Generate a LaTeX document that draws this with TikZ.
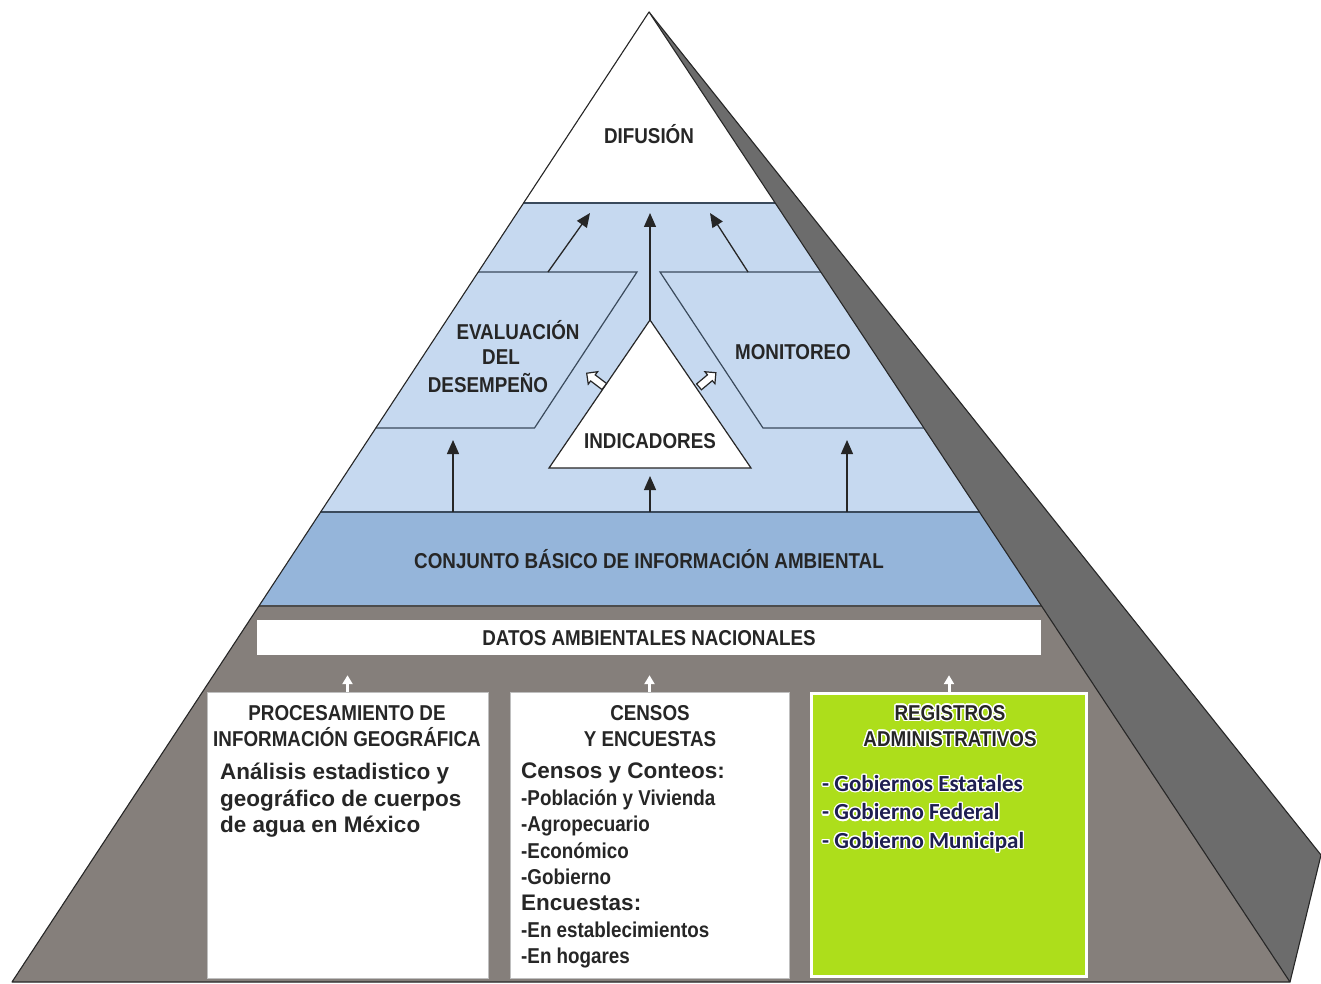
\documentclass[tikz,border=0pt]{standalone}
\usepackage{fontspec}
\setmainfont{Liberation Sans}
\newfontfamily\narrowf[FakeStretch=0.875]{Liberation Sans}
\newfontfamily\calib{Carlito}
\usepackage{contour}
\contourlength{1.3pt}
\usetikzlibrary{arrows.meta,shapes.arrows,calc}

\definecolor{lblue}{HTML}{C6D9F0}
\definecolor{dblue}{HTML}{95B5DA}
\definecolor{pgray}{HTML}{857F7B}
\definecolor{sgray}{HTML}{6C6C6C}
\definecolor{lgreen}{HTML}{ADDE1B}
\definecolor{txt}{HTML}{262626}
\definecolor{navy}{HTML}{1E1E50}
\definecolor{lnblue}{HTML}{3A4A5C}

\newcommand{\labf}{\narrowf\bfseries\fontsize{21.5}{26}\selectfont}
\newcommand{\bodf}{\bfseries\fontsize{22.5}{26.5}\selectfont}
\newcommand{\narf}{\narrowf\bfseries\fontsize{21.5}{26.5}\selectfont}

\begin{document}
\begin{tikzpicture}[x=1pt,y=-1pt,
  lab/.style={font=\labf, text=txt, align=center, inner sep=0pt},
  body/.style={text=txt, align=left, inner sep=0pt},
  rim/.style={draw=black!85, line width=1.1pt, line join=round},
  pline/.style={draw=lnblue, line width=1.2pt},
  upar/.style={draw=txt, line width=1.3pt, -{Triangle[length=14pt,width=12pt]}},
  warr/.style={draw=white, line width=3pt, -{Triangle[length=9pt,width=10pt]}},
  hollow/.style={single arrow, draw=txt, fill=white, line width=1.2pt,
     minimum height=22pt, single arrow head extend=4pt,
     inner xsep=0pt, inner ysep=3.2pt},
  wbox/.style={draw=black!25, fill=white, line width=0.8pt, inner sep=0pt},
  gbox/.style={draw=white, fill=lgreen, line width=3pt, inner sep=0pt}
]
\useasboundingbox (0,0) rectangle (1321,984);
\fill[white] (0,0) rectangle (1321,984);

% pyramid corners
\coordinate (A) at (649,12);
\coordinate (L) at (12,982);
\coordinate (R) at (1290,982);
\coordinate (S) at (1321,855);

% side face
\fill[sgray] (A) -- (S) -- (R) -- cycle;
\draw[rim] (A) -- (S) -- (R);

% front face
\fill[pgray] (A) -- (L) -- (R) -- cycle;
\begin{scope}
  \clip (A) -- (L) -- (R) -- cycle;
  \fill[white] (0,0) rectangle (1321,203);
  \fill[lblue] (0,203) rectangle (1321,512);
  \fill[dblue] (0,512) rectangle (1321,606);
  \draw[pline] (0,203) -- (1321,203);
  \draw[pline] (0,512) -- (1321,512);
  \draw[pline, draw=black!70] (0,606) -- (1321,606);
  % parallelograms
  \draw[pline] (300,272) -- (637,272) -- (534.5,428) -- (300,428);
  \draw[pline] (1000,272) -- (660,272) -- (763,428) -- (1000,428);
\end{scope}
\draw[rim] (A) -- (L) -- (R) -- cycle;

% indicator triangle
\coordinate (indT) at (650,320);
\coordinate (indB) at (650,468);
\draw[pline, draw=txt, fill=white] (indT) -- (751,468) -- (549,468) -- cycle;

% labels
\node[lab] (dif) at (649,134) {DIFUSIÓN};
\node[lab] (eva1) at (518,330) {EVALUACIÓN};
\node[lab] (eva2) at (501,357) {DEL};
\node[lab] (eva3) at (488,383) {DESEMPEÑO};
\node[lab] (mon) at (793,352) {MONITOREO};
\node[lab] (ind) at (650,441) {INDICADORES};
\node[lab] (cbi) at (649,559) {CONJUNTO BÁSICO DE INFORMACIÓN AMBIENTAL};

% top arrows
\coordinate (evaTop) at (548,272);
\coordinate (monTop) at (748,272);
\coordinate (difL) at (590,213);
\coordinate (difC) at (650,213);
\coordinate (difR) at (710,213);
\draw[upar] (evaTop) -- (difL);
\draw[upar] (indT) -- (difC);
\draw[upar] (monTop) -- (difR);

% hollow arrows
\node[hollow, rotate=143] (ha1) at (597,381) {};
\node[hollow, rotate=40] (ha2) at (706,381) {};

% arrows from the basic set
\coordinate (cbL) at (453,512);
\coordinate (cbC) at (650,512);
\coordinate (cbR) at (847,512);
\coordinate (evaB) at (453,428);
\coordinate (monB) at (847,428);
\draw[upar, shorten >=12pt] (cbL) -- (evaB);
\draw[upar, shorten >=8pt] (cbC) -- (indB);
\draw[upar, shorten >=12pt] (cbR) -- (monB);

% datos bar
\node[fill=white, minimum width=784pt, minimum height=35pt, inner sep=0pt] (datos) at (649,637.5) {};
\node[lab] (datost) at (649,638) {DATOS AMBIENTALES NACIONALES};

% boxes
\node[wbox, minimum width=281pt, minimum height=286pt] (b1) at (347.5,835) {};
\node[wbox, minimum width=279pt, minimum height=286pt] (b2) at (649.5,835) {};
\node[gbox, minimum width=275pt, minimum height=283pt] (b3) at (949,835) {};

\draw[warr, shorten >=20pt] (b1.north) -- (b1.north |- datos.south);
\draw[warr, shorten >=20pt] (b2.north) -- (b2.north |- datos.south);
\draw[warr, shorten >=20pt] (b3.north) -- (b3.north |- datos.south);

% box 1 text
\node[lab, anchor=north] (b1h) at (347,705) {PROCESAMIENTO DE\\INFORMACIÓN GEOGRÁFICA};
\node[body, font=\bodf, anchor=north west] (b1t) at (220,763)
  {Análisis estadistico y\\geográfico de cuerpos\\de agua en México};

% box 2 text
\node[lab, anchor=north] (b2h) at (650,705) {CENSOS\\Y ENCUESTAS};
\node[body, font=\fontsize{22}{26.4}\selectfont, anchor=north west] (b2t) at (521,763)
  {{\bodf Censos y Conteos:}\\
   {\narf -Población y Vivienda}\\
   {\narf -Agropecuario}\\
   {\narf -Económico}\\
   {\narf -Gobierno}\\
   {\bodf Encuestas:}\\
   {\narf -En establecimientos}\\
   {\narf -En hogares}};

% box 3 text
\node[lab, anchor=north] (b3h) at (950,705)
  {\contour{white}{REGISTROS}\\\contour{white}{ADMINISTRATIVOS}};
\node[body, text=navy, font=\calib\bfseries\fontsize{23}{28.5}\selectfont, anchor=north west] (b3t) at (822,775)
  {\contour{white}{- Gobiernos Estatales}\\
   \contour{white}{- Gobierno Federal}\\
   \contour{white}{- Gobierno Municipal}};
\end{tikzpicture}
\end{document}
